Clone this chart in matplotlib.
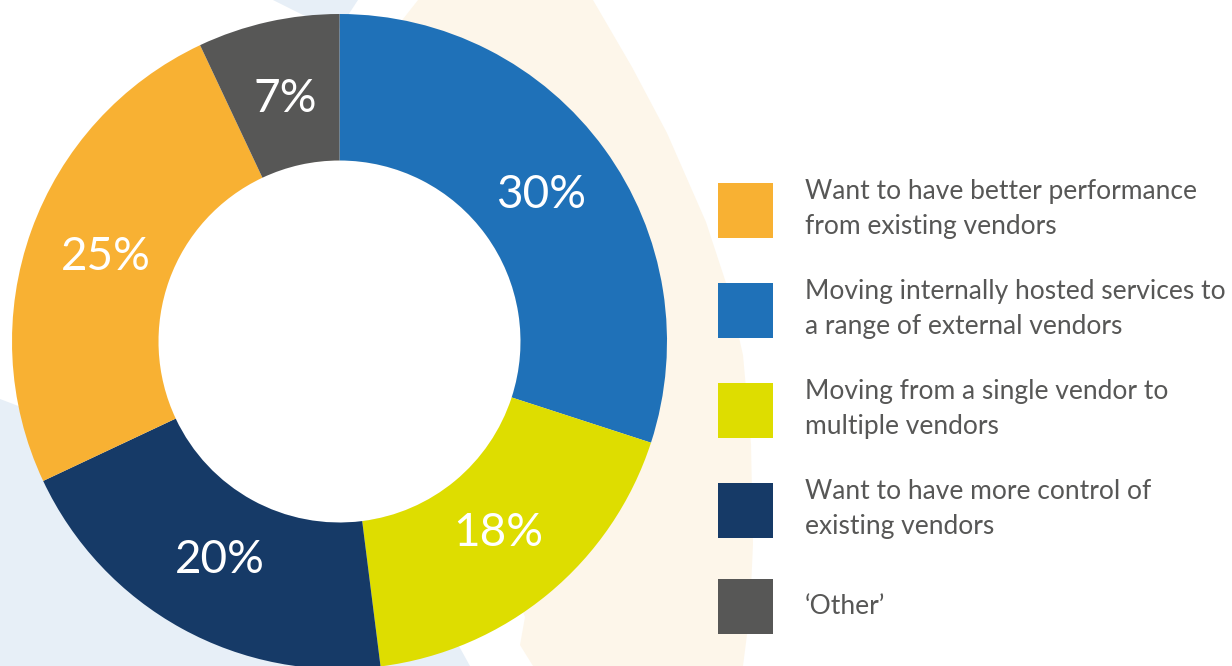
import numpy as np
import matplotlib.pyplot as plt
from matplotlib.patches import Polygon, Circle

plt.rcParams['font.family'] = ['Lato', 'DejaVu Sans']

# data (legend order)
categories = ['Want to have better performance\nfrom existing vendors',
              'Moving internally hosted services to\na range of external vendors',
              'Moving from a single vendor to\nmultiple vendors',
              'Want to have more control of\nexisting vendors',
              '\u2018Other\u2019']
shares = [25, 30, 18, 20, 7]
colors = ['#F8B133', '#1F71B8', '#DEDD00', '#163A67', '#575756']
# order of slices going clockwise from 12 o'clock
pie_order = [1, 2, 3, 0, 4]

W, H = 1232, 666
fig = plt.figure(figsize=(W / 100, H / 100), dpi=100)
ax = fig.add_axes([0, 0, 1, 1])

def img(pts):
    # image pixel coords (y down) -> axes coords (y up)
    return [(x, H - y) for x, y in pts]

# decorative background shapes
cream = img([(418, 0), (593, 0), (632, 67), (667, 133), (706, 222), (728, 289),
             (743, 355), (751, 444), (753, 544), (750, 611), (743, 666),
             (533, 666), (520, 645), (525, 617), (400, 300), (300, 150)])
blue_top = img([(273, 0), (358, 0), (337, 32)])
blue_low = img([(0, 399), (300, 513), (378, 500), (470, 666), (0, 666)])
ax.add_patch(Polygon(cream, closed=True, fc='#FDF6EA', ec='none', zorder=0))
ax.add_patch(Polygon(blue_top, closed=True, fc='#E7EFF7', ec='none', zorder=0))
ax.add_patch(Polygon(blue_low, closed=True, fc='#E7EFF7', ec='none', zorder=0))

cx, cy = 339.5, H - 341.5
R, r = 327.5, 181

vals = [shares[i] for i in pie_order]
cols = [colors[i] for i in pie_order]
wedges, _, autotexts = ax.pie(vals, colors=cols, startangle=90, counterclock=False,
                              center=(cx, cy), radius=R, frame=True,
                              autopct='%d%%', pctdistance=0.76,
                              wedgeprops=dict(width=R - r, linewidth=0),
                              textprops=dict(color='white', fontsize=33))
ax.add_patch(Circle((cx, cy), r, fc='white', ec='none', zorder=0.5))

fs = 19 * 100 / 72  # legend font size in px
leg = ax.legend([wedges[pie_order.index(i)] for i in range(len(shares))], categories,
                loc='upper left', bbox_to_anchor=(718 / W, 1 - 179 / H),
                bbox_transform=fig.transFigure, frameon=False,
                fontsize=19, labelcolor='#575756',
                handlelength=55 / fs, handleheight=(55 / fs - 0.245) / 0.65,
                handletextpad=32 / fs, labelspacing=1.53,
                borderpad=0, borderaxespad=0)
for t in leg.get_texts():
    t.set_linespacing(1.48)

ax.set_xlim(0, W)
ax.set_ylim(0, H)
ax.set_aspect('equal')
ax.axis('off')

fig.savefig('out.png', dpi=100)
